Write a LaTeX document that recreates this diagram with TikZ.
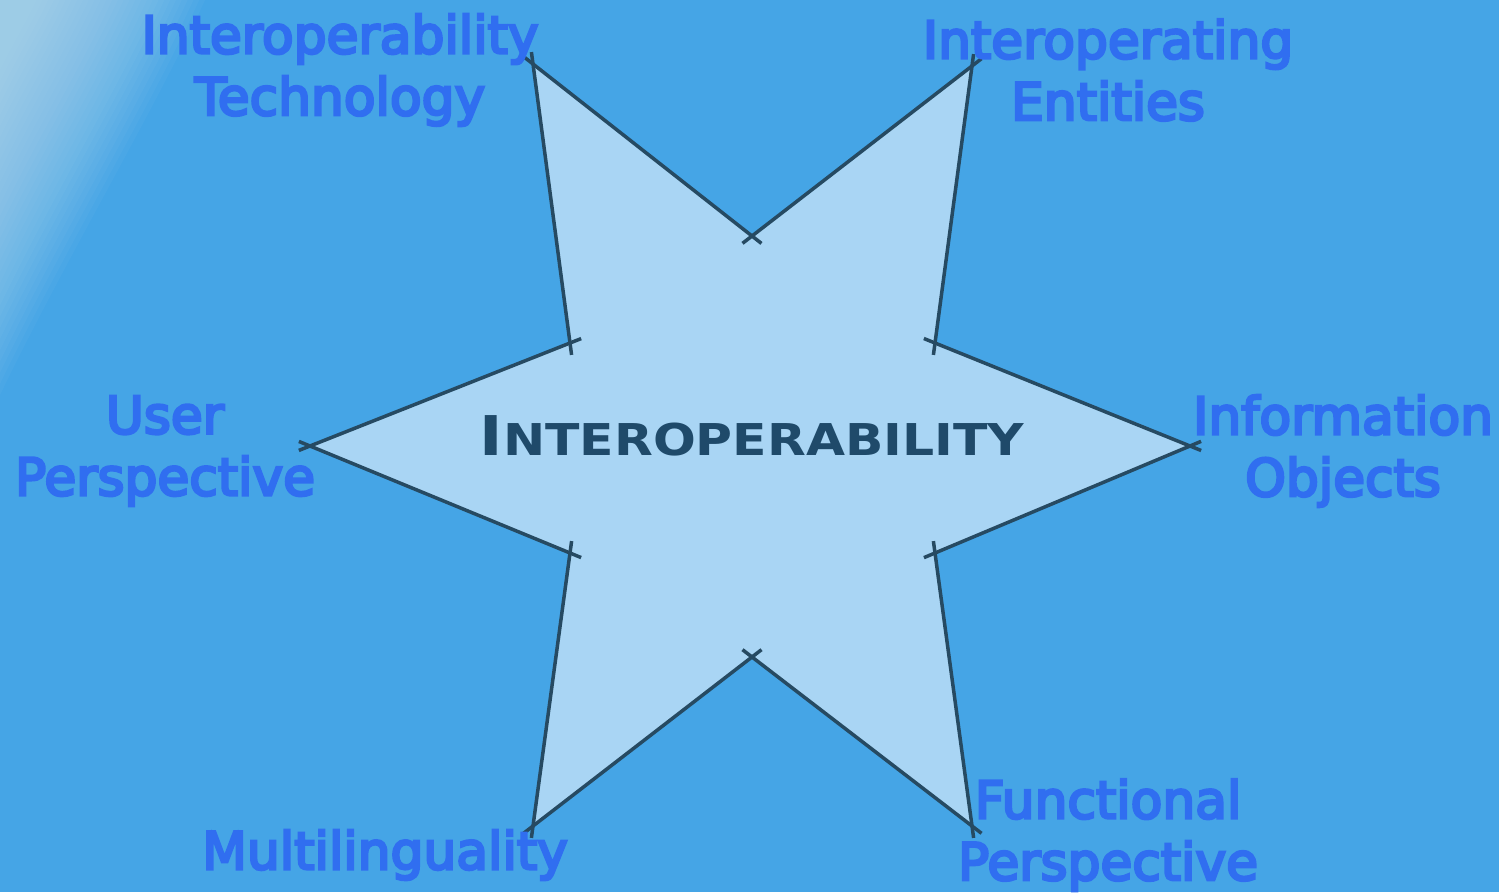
\documentclass[tikz,border=0pt]{standalone}
\usepackage{fontspec}
\newfontfamily\labelfont[FakeBold=5]{DejaVu Sans}
\newfontfamily\titlefont{DejaVu Sans}
\definecolor{bg}{HTML}{45A5E6}
\definecolor{sheen}{HTML}{C8E4FA}
\definecolor{starfill}{HTML}{A9D5F4}
\definecolor{starline}{HTML}{264A62}
\definecolor{labelblue}{HTML}{306EF0}
\definecolor{titledark}{HTML}{1F4A6A}
\begin{document}
\begin{tikzpicture}[x=1bp,y=-1bp,
  lbl/.style={text=labelblue, font=\labelfont\fontsize{52}{62}\selectfont, align=center, inner sep=0pt},
  edgeline/.style={line width=3.5bp, draw=starline, shorten <=-12bp, shorten >=-12bp},
  title/.style={text=titledark, font=\titlefont\bfseries, inner sep=0pt},
  sheenlayer/.style={fill=sheen, opacity=0.045}]
\useasboundingbox (0,0) rectangle (1499,892);
\fill[bg] (0,0) rectangle (1499,892);
\foreach \k in {1,...,30} {
  \pgfmathsetmacro{\sc}{0.15+0.85*\k/30}
  \fill[sheenlayer, scale=\sc] (0,0) -- (205,0) .. controls (155,110) and (65,260) .. (0,395) -- cycle;
}
% star vertices
\coordinate (o1) at (533,64);
\coordinate (i1) at (752,236);
\coordinate (o2) at (972,66);
\coordinate (i2) at (935,343);
\coordinate (o3) at (1190,446);
\coordinate (i3) at (935,553);
\coordinate (o4) at (972,826);
\coordinate (i4) at (752,657);
\coordinate (o5) at (533,826);
\coordinate (i5) at (570,553);
\coordinate (o6) at (310,446);
\coordinate (i6) at (570,343);
\fill[starfill] (o1) -- (i1) -- (o2) -- (i2) -- (o3) -- (i3) -- (o4) -- (i4) -- (o5) -- (i5) -- (o6) -- (i6) -- cycle;
\draw[edgeline] (o1) -- (i1);
\draw[edgeline] (i1) -- (o2);
\draw[edgeline] (o2) -- (i2);
\draw[edgeline] (i2) -- (o3);
\draw[edgeline] (o3) -- (i3);
\draw[edgeline] (i3) -- (o4);
\draw[edgeline] (o4) -- (i4);
\draw[edgeline] (i4) -- (o5);
\draw[edgeline] (o5) -- (i5);
\draw[edgeline] (i5) -- (o6);
\draw[edgeline] (o6) -- (i6);
\draw[edgeline] (i6) -- (o1);
% center title
\node[title] (center) at (752,436) {\scalebox{1.15}[1]{\fontsize{55}{60}\selectfont I\fontsize{44}{60}\selectfont NTEROPERABILITY}};
% labels
\node[lbl] (tech) at (340,70) {Interoperability\\Technology};
\node[lbl] (ent) at (1108,70) {Interoperating\\Entities};
\node[lbl] (user) at (165,451) {User\\Perspective};
\node[lbl] (info) at (1343,451) {Information\\Objects};
\node[lbl] (multi) at (385,855) {Multilinguality};
\node[lbl] (func) at (1108,835) {Functional\\Perspective};
\end{tikzpicture}
\end{document}
